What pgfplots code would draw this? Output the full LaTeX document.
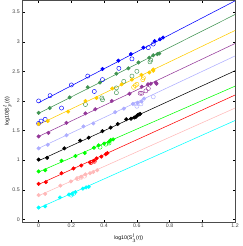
\documentclass[border=0pt]{standalone}
\usepackage{pgfplots}
\pgfplotsset{compat=1.18}
\usepackage{fontspec}
\setmainfont{Liberation Sans}
\definecolor{cBlue}{rgb}{0,0,1}
\definecolor{cDGreen}{rgb}{0.25,0.58,0.32}
\definecolor{cYellow}{rgb}{1,0.8,0}
\definecolor{cPurple}{rgb}{0.58,0.22,0.6}
\definecolor{cLBlue}{rgb}{0.68,0.68,1}
\definecolor{cGreen}{rgb}{0,1,0}
\definecolor{cRed}{rgb}{1,0,0}
\definecolor{cPink}{rgb}{1,0.72,0.72}
\definecolor{cCyan}{rgb}{0,1,1}
\begin{document}
\begin{tikzpicture}
\begin{axis}[
  scale only axis, width=215bp, height=224bp,
  xmin=-0.1, xmax=1.2, ymin=-0.045, ymax=3.7,
  xtick={0,0.2,...,1.2}, ytick={0,0.5,...,3.5},
  tick align=inside, major tick length=2.5bp,
  tick style={black, line width=0.4pt},
  axis line style={line width=0.5pt, black!70},
  /pgf/number format/assume math mode=true,
  tick label style={font=\fontsize{5.3}{6}\selectfont, text=black!75},
  label style={font=\fontsize{5.3}{6}\selectfont},
  xlabel={log10(S$_3^l$(r))}, ylabel={log10(S$_p^l$(r))},
  xlabel style={yshift=0bp}, ylabel style={yshift=-6bp},
  xticklabel style={yshift=1.5bp}, yticklabel style={xshift=1bp},
  every axis plot/.append style={line width=0.55pt},
  clip=true,
]
% fit lines
\addplot[cBlue, no marks] coordinates {(0,1.97) (1.2,3.69)};
\addplot[cDGreen, no marks] coordinates {(0,1.79) (1.2,3.46)};
\addplot[cYellow, no marks] coordinates {(0,1.60) (1.2,3.19)};
\addplot[cPurple, no marks] coordinates {(0,1.40) (1.2,2.97)};
\addplot[cLBlue, no marks] coordinates {(0,1.20) (1.2,2.76)};
\addplot[black, no marks] coordinates {(0,0.99) (1.2,2.51)};
\addplot[cGreen, no marks] coordinates {(0,0.80) (1.2,2.25)};
\addplot[cRed, no marks] coordinates {(0,0.59) (1.2,2.10)};
\addplot[cPink, no marks] coordinates {(0,0.40) (1.2,1.88)};
\addplot[cCyan, no marks] coordinates {(0,0.19) (1.2,1.67)};
% open circles
\pgfplotsset{oc/.style={only marks, mark=o, mark size=2.1bp, mark options={line width=0.45pt}}}
\addplot[cBlue, oc] coordinates {(0,2.0) (0.07,2.09) (0.14,1.88) (0.2,2.27) (0.30,2.42) (0.34,2.16) (0.39,2.36) (0.49,2.55) (0.57,2.71) (0.67,2.90) (0.70,2.96) (0,1.62) (0.015,1.66) (0.04,1.69)};
\addplot[cDGreen, oc] coordinates {(0.286,1.94) (0.386,2.05) (0.39,2.02) (0.475,2.22) (0.475,2.14) (0.52,2.33) (0.57,2.42) (0.60,2.50) (0.68,2.66) (0.685,2.69)};
\addplot[cYellow, oc] coordinates {(0.58,2.23) (0.59,2.26) (0.60,2.28) (0.636,2.36) (0.64,2.39)};
\addplot[cPurple, oc] coordinates {(0.62,2.13) (0.63,2.13) (0.655,2.17) (0.67,2.21)};
\addplot[cLBlue, oc] coordinates {(0.60,1.91) (0.625,1.95) (0.595,1.95) (0.70,2.07)};
\addplot[cGreen, oc] coordinates {(0.375,1.22) (0.41,1.27) (0.43,1.29)};
\addplot[cRed, oc] coordinates {(0.32,0.96) (0.34,0.98)};
\addplot[cPink, oc] coordinates {(0.24,0.69) (0.26,0.71) (0.28,0.73)};
\addplot[cCyan, oc] coordinates {(0.20,0.41) (0.215,0.44)};
% filled
\pgfplotsset{fc/.style={only marks, mark=*, mark size=1.75bp}}
\addplot[cBlue, fc] coordinates {(0.39,2.54) (0.487,2.68) (0.564,2.79) (0.64,2.90) (0.709,3.01) (0.741,3.04) (0.76,3.07)};
\addplot[cDGreen, fc] coordinates {(0,1.80) (0.068,1.88) (0.19,2.06) (0.30,2.23) (0.375,2.31) (0.475,2.46) (0.548,2.55) (0.61,2.65) (0.676,2.73) (0.70,2.77) (0.725,2.79) (0.737,2.80)};
\addplot[cYellow, fc] coordinates {(0,1.61) (0.056,1.66) (0.18,1.82) (0.286,2.0) (0.354,2.05) (0.45,2.21) (0.507,2.28) (0.57,2.36) (0.628,2.44) (0.676,2.48) (0.70,2.51) (0.70,2.53)};
\addplot[cPurple, fc] coordinates {(0,1.40) (0.06,1.46) (0.17,1.63) (0.286,1.79) (0.346,1.86) (0.447,2.0) (0.555,2.12) (0.63,2.24) (0.668,2.28) (0.685,2.29) (0.716,2.31) (0.72,2.29)};
\addplot[cLBlue, fc] coordinates {(0,1.20) (0.056,1.26) (0.17,1.42) (0.274,1.57) (0.334,1.62) (0.467,1.81) (0.52,1.87) (0.576,1.95) (0.604,1.97) (0.628,1.99) (0.644,2.04)};
\addplot[black, fc] coordinates {(0,1.01) (0.052,1.04) (0.157,1.20) (0.254,1.33) (0.306,1.38) (0.39,1.49) (0.44,1.55) (0.483,1.61) (0.535,1.69) (0.564,1.70) (0.584,1.72) (0.594,1.73) (0.604,1.76) (0.612,1.77) (0.62,1.78)};
\addplot[cGreen, fc] coordinates {(0,0.81) (0.04,0.83) (0.14,0.99) (0.225,1.07) (0.282,1.12) (0.338,1.21) (0.366,1.25) (0.40,1.28) (0.43,1.31) (0.44,1.34) (0.455,1.35)};
\addplot[cRed, fc] coordinates {(0,0.60) (0.044,0.63) (0.14,0.78) (0.213,0.86) (0.26,0.91) (0.314,0.96) (0.338,0.99) (0.354,1.03) (0.383,1.06) (0.41,1.10) (0.42,1.12)};
\addplot[cPink, fc] coordinates {(0,0.41) (0.04,0.43) (0.133,0.57) (0.197,0.64) (0.233,0.69) (0.26,0.72) (0.286,0.76) (0.314,0.78) (0.334,0.80) (0.358,0.83)};
\addplot[cCyan, fc] coordinates {(0,0.20) (0.04,0.22) (0.13,0.37) (0.185,0.42) (0.205,0.43) (0.225,0.46) (0.27,0.52) (0.29,0.54) (0.306,0.55)};
\end{axis}
\end{tikzpicture}
\end{document}
